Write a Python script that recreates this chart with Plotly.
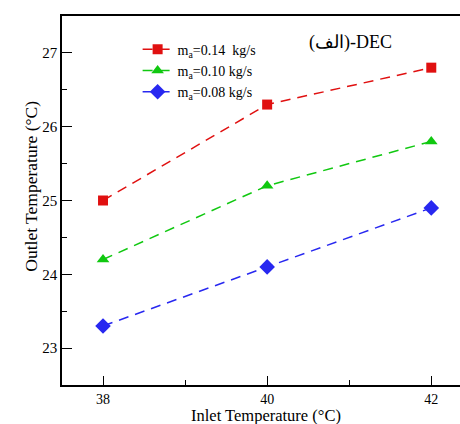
import plotly.graph_objects as go

# Inlet temperature (°C) and outlet temperature (°C) for each air mass flow rate
inlet_temp = [38, 40, 42]
outlet_014 = [25.0, 26.3, 26.8]
outlet_010 = [24.2, 25.2, 25.8]
outlet_008 = [23.3, 24.1, 24.9]
series_names = ["m<sub>a</sub>=0.14  kg/s", "m<sub>a</sub>=0.10 kg/s", "m<sub>a</sub>=0.08 kg/s"]
x_ticks = [38, 40, 42]
y_ticks = [23, 24, 25, 26, 27]

FONT = "Liberation Serif, Times New Roman, Times, serif"

fig = go.Figure()
styles = [
    (outlet_014, "#e01010", "square", 10),
    (outlet_010, "#10c810", "triangle-up", 11),
    (outlet_008, "#2828f0", "diamond", 12),
]
for (vals, color, symbol, size), name in zip(styles, series_names):
    fig.add_trace(go.Scatter(
        x=inlet_temp, y=vals, name=name, mode="lines+markers",
        line=dict(color=color, width=1.5, dash="10px,7px"),
        marker=dict(symbol=symbol, size=size, color=color),
    ))

# Panel label and axis titles
fig.add_annotation(
    text="(الف)-DEC", xref="paper", yref="paper", x=0.615, y=0.928,
    xanchor="left", yanchor="middle", showarrow=False,
    font=dict(family=FONT, size=18, color="black"),
)
fig.add_annotation(
    text="Inlet Temperature (°C)", xref="paper", yref="paper", x=0.513, y=0.0,
    yshift=-30, borderpad=0,
    xanchor="center", yanchor="middle", showarrow=False,
    font=dict(family=FONT, size=16.5, color="black"),
)
fig.add_annotation(
    text="Outlet Temperature (°C)", xref="paper", yref="paper", x=-0.078, y=0.54,
    xanchor="center", yanchor="middle", showarrow=False, textangle=-90,
    font=dict(family=FONT, size=17.5, color="black"),
)

fig.update_layout(
    width=460, height=424,
    margin=dict(l=62, r=0, t=16, b=39),
    paper_bgcolor="white", plot_bgcolor="white",
    font=dict(family=FONT, size=15, color="black"),
    showlegend=True,
    legend=dict(x=0.19, y=0.952, xanchor="left", yanchor="top",
                bgcolor="rgba(0,0,0,0)", font=dict(family=FONT, size=14),
                tracegroupgap=0),
    xaxis=dict(
        range=[37.5, 42.35], tickvals=x_ticks, ticks="inside", ticklen=9,
        tickwidth=1.2, tickcolor="black", showline=True, linecolor="black",
        linewidth=1.5, mirror=True, showgrid=False, zeroline=False,
        minor=dict(tickvals=[39, 41], ticks="inside", ticklen=5, tickcolor="black"),
        tickfont=dict(family=FONT, size=14),
    ),
    yaxis=dict(
        range=[22.5, 27.5], tickvals=y_ticks, ticks="inside", ticklen=10,
        tickwidth=1.2, tickcolor="black", showline=True, linecolor="black",
        linewidth=1.5, showgrid=False, zeroline=False,
        minor=dict(tickvals=[23.5, 24.5, 25.5, 26.5], ticks="inside", ticklen=5, tickcolor="black"),
        tickfont=dict(family=FONT, size=15),
    ),
)

fig.write_html("out.html")
